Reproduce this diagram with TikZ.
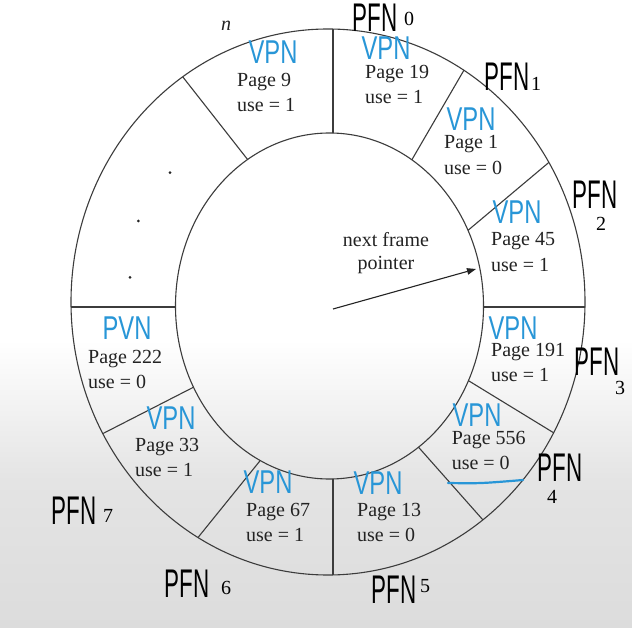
\documentclass[tikz,border=0pt]{standalone}
\usepackage{fontspec}
\usepackage{graphicx}
\setmainfont{Liberation Serif}
\newfontfamily\hand{Liberation Sans}
\usetikzlibrary{arrows.meta,calc}
\definecolor{ink}{RGB}{60,60,60}
\definecolor{txt}{RGB}{35,35,35}
\definecolor{pen}{RGB}{40,150,215}
\definecolor{bgmid}{RGB}{228,228,228}
\definecolor{bgbot}{RGB}{220,220,220}
\newcommand\vpnmark[1]{\scalebox{0.72}[1]{#1}}
\newcommand\pfnmark{\scalebox{0.56}[1]{PFN}}
\newcommand\cellpair[5]{%
  \node[celltext] (#1a) at (#2,#3) {#4};
  \node[celltext] (#1b) at (#2,#3+25.5) {#5};}
\begin{document}
\begin{tikzpicture}[x=1pt,y=-1pt,
  ringline/.style={draw=ink,line width=1.1pt},
  celltext/.style={anchor=base west,inner sep=0pt,text=txt,font=\fontsize{20}{24}\selectfont},
  vpn/.style={inner sep=0pt,text=pen,font=\hand\fontsize{33}{33}\selectfont},
  pfn/.style={inner sep=0pt,text=black,font=\hand\fontsize{40}{40}\selectfont},
  pfnnum/.style={inner sep=0pt,text=black,font=\fontsize{20}{20}\selectfont},
  dotmark/.style={fill=txt,draw=none}
]
% background
\useasboundingbox (0,0) rectangle (632,628);
\fill[white] (0,0) rectangle (632,628);
\shade[top color=white,bottom color=bgmid,draw=none] (0,340) rectangle (632,480);
\shade[top color=bgmid,bottom color=bgbot,draw=none] (0,480) rectangle (632,628.5);

% ring
\coordinate (oc) at (328,302);
\coordinate (ic) at (329.5,306);
\draw[ringline] (oc) ellipse [x radius=257pt, y radius=273pt];
\draw[ringline] (ic) ellipse [x radius=154pt, y radius=173pt];

% dividers (clipped to the ring)
\begin{scope}[even odd rule]
  \clip (oc) ellipse [x radius=257pt, y radius=273pt]
        (ic) ellipse [x radius=154pt, y radius=173pt];
  \foreach \ox/\oy/\ix/\iy in {333/29/333/133, 333/575/333/479, 71/307/176/307, 585/307/483/307,
      463.7/70.6/413.3/157.3, 546.4/164.5/467.7/230.6, 554/433/469/381, 483/520/421/450,
      198.4/537/255/467, 104/433/191/388.5, 183.5/77.8/246.8/158.5}{
    \draw[ringline] ($(\ox,\oy)!-8pt!(\ix,\iy)$) -- ($(\ix,\iy)!-8pt!(\ox,\oy)$);
  }
\end{scope}

% cell texts
\cellpair{p9}{237}{86.5}{Page 9}{use = 1}
\cellpair{p19}{365}{78.5}{Page 19}{use = 1}
\cellpair{p1}{444}{149}{Page 1}{use = 0}
\cellpair{p45}{491}{246}{Page 45}{use = 1}
\cellpair{p191}{491}{356}{Page 191}{use = 1}
\cellpair{p556}{451.6}{444}{Page 556}{use = 0}
\cellpair{p13}{357}{516}{Page 13}{use = 0}
\cellpair{p67}{246}{516}{Page 67}{use = 1}
\cellpair{p33}{135}{451}{Page 33}{use = 1}
\cellpair{p222}{88}{363}{Page 222}{use = 0}

% n label
\node[inner sep=0pt,text=txt,font=\itshape\fontsize{20}{20}\selectfont] (nlab) at (226,26) {n};

% dots
\fill[dotmark] (170,172.6) circle (1.5pt);
\fill[dotmark] (138.3,221) circle (1.5pt);
\fill[dotmark] (130,277.4) circle (1.5pt);

% pointer
\node[anchor=base,inner sep=0pt,text=txt,font=\fontsize{20}{24}\selectfont] (nf1) at (386,247) {next frame};
\node[anchor=base,inner sep=0pt,text=txt,font=\fontsize{20}{24}\selectfont] (nf2) at (386,270) {pointer};
\coordinate (ctr) at (333,309);
\coordinate (tip) at (476,269);
\draw[draw=txt,line width=1.1pt,-{Triangle[length=9pt,width=6.5pt]}] (ctr) -- (tip);

% handwritten VPN marks
\node[vpn] (v9) at (273,52) {\vpnmark{VPN}};
\node[vpn] (v19) at (386,48) {\vpnmark{VPN}};
\node[vpn] (v1) at (471,119) {\vpnmark{VPN}};
\node[vpn] (v45) at (517,212) {\vpnmark{VPN}};
\node[vpn] (v191) at (513,328) {\vpnmark{VPN}};
\node[vpn] (v556) at (477,415) {\vpnmark{VPN}};
\node[vpn] (v13) at (378,483) {\vpnmark{VPN}};
\node[vpn] (v67) at (268,482) {\vpnmark{VPN}};
\node[vpn] (v33) at (171,418) {\vpnmark{VPN}};
\node[vpn] (v222) at (127,328) {\vpnmark{PVN}};

% underline under Page 556
\coordinate (ul1) at (448,483);
\coordinate (ul2) at (523,480);
\draw[pen,line width=2.2pt,line cap=round] (ul1) .. controls (480,483.5) .. (ul2);

% handwritten PFN labels
\node[pfn] (f0) at (375,18) {\pfnmark};
\node[pfnnum] (f0n) at (409,18.5) {0};
\node[pfn] (f1) at (507,77) {\pfnmark};
\node[pfnnum] (f1n) at (536,84) {1};
\node[pfn] (f2) at (595,195) {\pfnmark};
\node[pfnnum] (f2n) at (601,224) {2};
\node[pfn] (f3) at (597,362) {\pfnmark};
\node[pfnnum] (f3n) at (620,388) {3};
\node[pfn] (f4) at (560,468) {\pfnmark};
\node[pfnnum] (f4n) at (552,497) {4};
\node[pfn] (f5) at (394,590) {\pfnmark};
\node[pfnnum] (f5n) at (425,586) {5};
\node[pfn] (f6) at (187,584) {\pfnmark};
\node[pfnnum] (f6n) at (226,588) {6};
\node[pfn] (f7) at (74,511) {\pfnmark};
\node[pfnnum] (f7n) at (108,516) {7};
\end{tikzpicture}
\end{document}
